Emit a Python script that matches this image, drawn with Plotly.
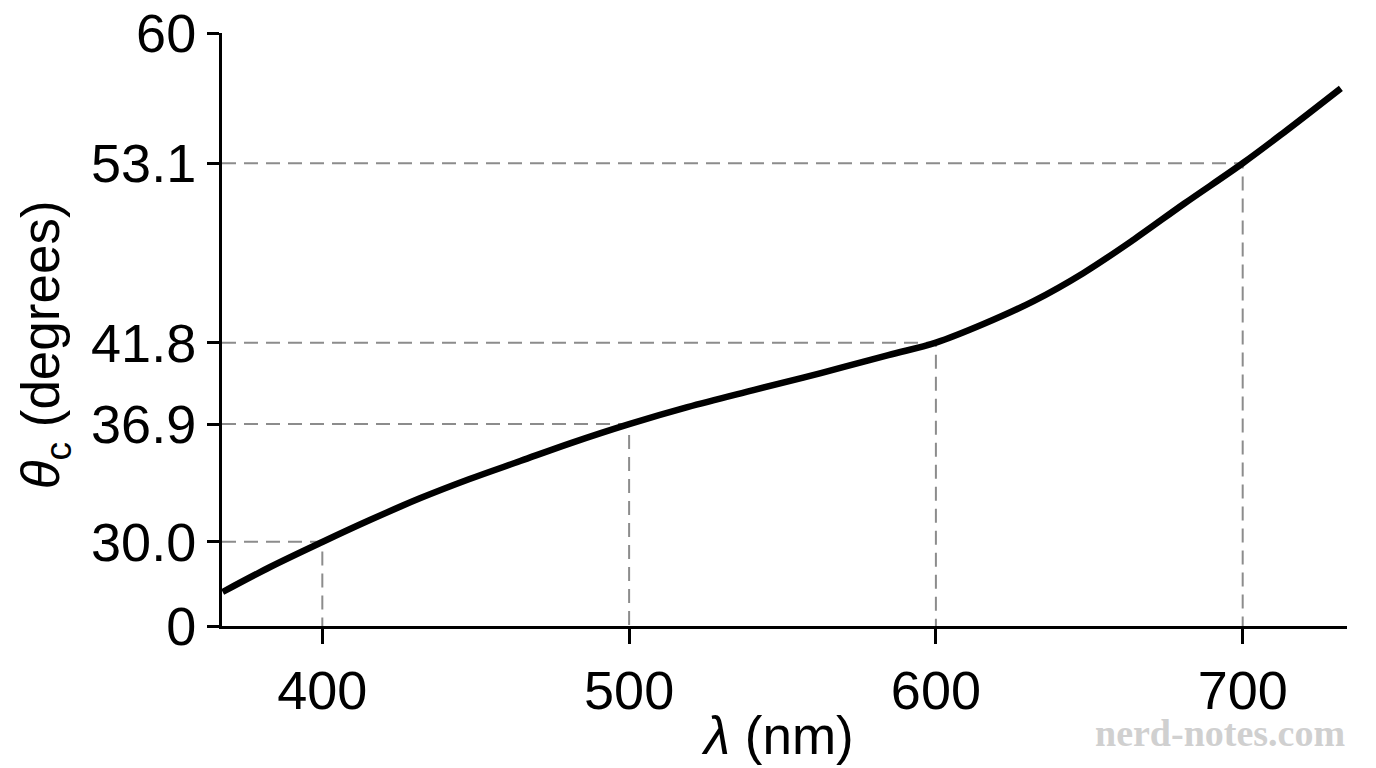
import plotly.graph_objects as go

# === Data ===
# The y axis in the reference is schematic (not linear in degrees), so the
# curve and the ticks are kept as positions on the drawn 0-60 scale.
wavelength_nm = [367.5, 383, 400, 415.5, 432, 448, 464.5, 481, 500, 519,
                 540.5, 562.5, 584.5, 600, 615.5, 632, 648, 664.5, 681,
                 700, 713.5, 732]
theta_pos = [3.44, 5.97, 8.5, 10.72, 12.94, 14.87, 16.69, 18.51, 20.43,
             22.15, 23.87, 25.59, 27.41, 28.67, 30.55, 32.9, 35.7, 39.1,
             42.75, 46.82, 49.95, 54.4]

# marked wavelengths and where their angles sit on the drawn scale
mark_nm = [400, 500, 600, 700]
mark_pos = [8.53, 20.43, 28.67, 46.82]

y_tick_pos = [0, 8.53, 20.43, 28.67, 46.82, 60]
y_tick_text = ["0", "30.0", "36.9", "41.8", "53.1", "60"]
x_tick_vals = [400, 500, 600, 700]

FONT = "Arial, Liberation Sans, sans-serif"
DASH = dict(color="#8c8c8c", width=2, dash="14px,8px")

fig = go.Figure()

# dashed guide lines: from y axis to the curve, then down to the x axis
for xm, ym in zip(mark_nm, mark_pos):
    fig.add_trace(go.Scatter(
        x=[367.3, xm, xm], y=[ym, ym, 0],
        mode="lines", line=DASH, hoverinfo="skip", showlegend=False,
    ))

# the curve
fig.add_trace(go.Scatter(
    x=wavelength_nm, y=theta_pos,
    mode="lines",
    line=dict(color="black", width=6.5, shape="spline", smoothing=1),
    showlegend=False,
))

fig.update_layout(
    width=1376, height=768,
    margin=dict(l=222, r=29, t=33, b=142),
    plot_bgcolor="white", paper_bgcolor="white",
    font=dict(family=FONT, color="black"),
    xaxis=dict(
        range=[367.3, 734], tickvals=x_tick_vals,
        showgrid=False, zeroline=False, automargin=False,
        showline=True, linecolor="black", linewidth=3,
        ticks="outside", ticklen=15, tickwidth=3, tickcolor="black",
        tickfont=dict(size=54, family=FONT), ticklabeloverflow="allow",
    ),
    yaxis=dict(
        range=[0, 60], tickvals=y_tick_pos, ticktext=y_tick_text,
        showgrid=False, zeroline=False, automargin=False,
        showline=True, linecolor="black", linewidth=3,
        ticks="outside", ticklen=12, tickwidth=3, tickcolor="black",
        tickfont=dict(size=54, family=FONT), ticklabeloverflow="allow",
    ),
)

# axis titles
fig.add_annotation(
    text="<i>λ</i> (nm)", xref="paper", yref="paper",
    x=0.494, y=-0.184, xanchor="center", yanchor="middle",
    showarrow=False, font=dict(size=53, family=FONT),
)
fig.add_annotation(
    text="<i>θ</i><sub>c</sub> (degrees)", xref="paper", yref="paper",
    x=-0.157, y=0.474, xanchor="center", yanchor="middle", textangle=-90,
    showarrow=False, font=dict(size=53, family=FONT),
)

# watermark
fig.add_annotation(
    text="<b>nerd-notes.com</b>", xref="paper", yref="paper",
    x=0.887, y=-0.18, xanchor="center", yanchor="middle",
    showarrow=False,
    font=dict(size=38, family="Liberation Serif, DejaVu Serif, serif", color="#d0d0d0"),
)

# drop the default 8px body margin so the figure fills the window
fig.write_html("out.html",
               config={"displayModeBar": False},
               post_script="document.body.style.margin='0';"
                           "document.body.style.overflow='hidden';")
